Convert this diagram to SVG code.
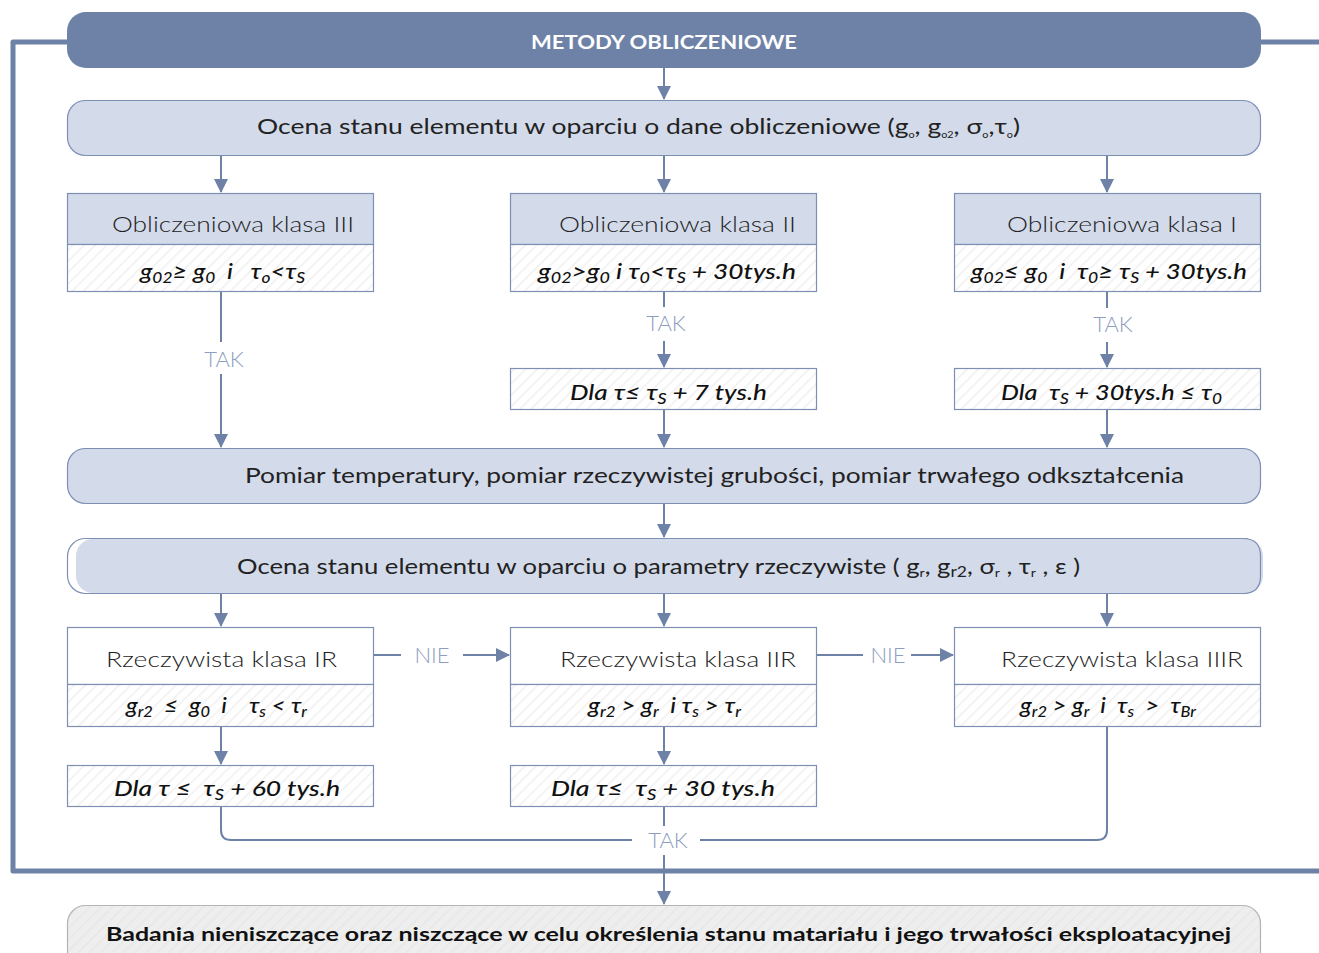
<svg xmlns="http://www.w3.org/2000/svg" width="1319" height="953" viewBox="0 0 1319 953">
  <defs>
    <pattern id="hatch" width="8" height="8" patternUnits="userSpaceOnUse" patternTransform="rotate(45)">
      <rect width="8" height="8" fill="#ffffff"/>
      <line x1="0" y1="0" x2="0" y2="8" stroke="#f0f0f0" stroke-width="3"/>
    </pattern>
    <pattern id="hatchGrey" width="8" height="8" patternUnits="userSpaceOnUse" patternTransform="rotate(45)">
      <rect width="8" height="8" fill="#eeeeee"/>
      <line x1="0" y1="0" x2="0" y2="8" stroke="#e7e7e7" stroke-width="3"/>
    </pattern>
    <marker id="arrow" markerWidth="14" markerHeight="14" refX="13" refY="7" orient="auto" markerUnits="userSpaceOnUse">
      <path d="M0,0 L14,7 L0,14 Z" fill="#6e82a8"/>
    </marker>
  </defs>
  <style>
    text { font-family: Lato, "Open Sans", "Liberation Sans", sans-serif; fill: #222; white-space: pre; }
    .title { font-size: 22px; font-weight: 300; }
    .main { font-size: 22px; font-weight: 400; }
    .formula { font-size: 22px; font-style: italic; font-weight: 500; fill: #111; }
    .label { font-size: 22px; font-weight: 300; fill: #8d9dc0; }
    .head { font-size: 19px; font-weight: 700; fill: #ffffff; }
    .bold { font-size: 19px; font-weight: 700; fill: #111; }
    .blue { fill: #d3daea; stroke: #7d8fb3; stroke-width: 1.2; }
    .plain { fill: #ffffff; stroke: #7d8fb3; stroke-width: 1.2; }
    .striped { fill: url(#hatch); stroke: #7d8fb3; stroke-width: 1.2; }
    .conn { fill: none; stroke: #6e82a8; stroke-width: 2; }
    .frame { fill: none; stroke: #6e82a8; stroke-width: 5; stroke-linejoin: round; }
  </style>

  <!-- outer frame of the computational part -->
  <g id="frame">
    <path class="frame" d="M70,42 H13 V871 H1319"/>
    <path class="frame" d="M1258,42 H1319"/>
  </g>

  <!-- connectors -->
  <g id="connectors">
    <line class="conn" x1="664" y1="68" x2="664" y2="99" marker-end="url(#arrow)"/>
    <line class="conn" x1="221" y1="156" x2="221" y2="192" marker-end="url(#arrow)"/>
    <line class="conn" x1="664" y1="156" x2="664" y2="192" marker-end="url(#arrow)"/>
    <line class="conn" x1="1107" y1="156" x2="1107" y2="192" marker-end="url(#arrow)"/>

    <line class="conn" x1="221" y1="291" x2="221" y2="342"/>
    <line class="conn" x1="221" y1="374" x2="221" y2="447" marker-end="url(#arrow)"/>
    <line class="conn" x1="664" y1="291" x2="664" y2="307"/>
    <line class="conn" x1="664" y1="341" x2="664" y2="367" marker-end="url(#arrow)"/>
    <line class="conn" x1="1107" y1="291" x2="1107" y2="308"/>
    <line class="conn" x1="1107" y1="342" x2="1107" y2="367" marker-end="url(#arrow)"/>
    <line class="conn" x1="664" y1="409" x2="664" y2="447" marker-end="url(#arrow)"/>
    <line class="conn" x1="1107" y1="409" x2="1107" y2="447" marker-end="url(#arrow)"/>

    <line class="conn" x1="664" y1="503" x2="664" y2="537" marker-end="url(#arrow)"/>
    <line class="conn" x1="221" y1="593" x2="221" y2="626" marker-end="url(#arrow)"/>
    <line class="conn" x1="664" y1="593" x2="664" y2="626" marker-end="url(#arrow)"/>
    <line class="conn" x1="1107" y1="593" x2="1107" y2="626" marker-end="url(#arrow)"/>

    <line class="conn" x1="374" y1="655" x2="401" y2="655"/>
    <line class="conn" x1="463" y1="655" x2="509" y2="655" marker-end="url(#arrow)"/>
    <line class="conn" x1="817" y1="655" x2="863" y2="655"/>
    <line class="conn" x1="911" y1="655" x2="953" y2="655" marker-end="url(#arrow)"/>

    <line class="conn" x1="221" y1="726" x2="221" y2="764" marker-end="url(#arrow)"/>
    <line class="conn" x1="664" y1="726" x2="664" y2="764" marker-end="url(#arrow)"/>

    <path class="conn" d="M221,806 V830 Q221,840 231,840 H632"/>
    <path class="conn" d="M1107,726 V830 Q1107,840 1097,840 H700"/>
    <line class="conn" x1="664" y1="806" x2="664" y2="826"/>
    <line class="conn" x1="664" y1="855" x2="664" y2="904" marker-end="url(#arrow)"/>
  </g>

  <!-- connector labels -->
  <g id="labels">
    <text class="label" x="224" y="367" text-anchor="middle">TAK</text>
    <text class="label" x="666" y="331" text-anchor="middle">TAK</text>
    <text class="label" x="1113" y="332" text-anchor="middle">TAK</text>
    <text class="label" x="432" y="663" text-anchor="middle">NIE</text>
    <text class="label" x="888" y="663" text-anchor="middle">NIE</text>
    <text class="label" x="668" y="848" text-anchor="middle">TAK</text>
  </g>

  <g id="header">
    <rect x="67" y="12" width="1194" height="56" rx="19" fill="#6e82a8"/>
    <text class="head" x="664" y="49" text-anchor="middle" textLength="266" lengthAdjust="spacingAndGlyphs">METODY OBLICZENIOWE</text>
  </g>

  <g id="ocena-obliczeniowe">
    <rect class="blue" x="67.5" y="100.5" width="1193" height="55" rx="18"/>
    <text class="main" x="257" y="134" textLength="763" lengthAdjust="spacingAndGlyphs">Ocena stanu elementu w oparciu o dane obliczeniowe (g<tspan font-size="9" baseline-shift="-4">o</tspan>, g<tspan font-size="9" baseline-shift="-4">o2</tspan>, σ<tspan font-size="9" baseline-shift="-4">o</tspan>,τ<tspan font-size="9" baseline-shift="-4">o</tspan>)</text>
  </g>

  <g id="klasa-III">
    <rect class="blue" x="67.5" y="193.5" width="306" height="51"/>
    <rect class="striped" x="67.5" y="244.5" width="306" height="47"/>
    <text class="title" x="112" y="232" textLength="242" lengthAdjust="spacingAndGlyphs">Obliczeniowa klasa III</text>
    <text class="formula" x="140" y="279" textLength="165" lengthAdjust="spacingAndGlyphs">g<tspan font-size="15" baseline-shift="-4">02</tspan>≥ g<tspan font-size="15" baseline-shift="-4">0</tspan>  i   τ<tspan font-size="15" baseline-shift="-4">o</tspan>&lt;τ<tspan font-size="15" baseline-shift="-4">S</tspan></text>
  </g>

  <g id="klasa-II">
    <rect class="blue" x="510.5" y="193.5" width="306" height="51"/>
    <rect class="striped" x="510.5" y="244.5" width="306" height="47"/>
    <text class="title" x="559" y="232" textLength="237" lengthAdjust="spacingAndGlyphs">Obliczeniowa klasa II</text>
    <text class="formula" x="538" y="279" textLength="258" lengthAdjust="spacingAndGlyphs">g<tspan font-size="15" baseline-shift="-4">02</tspan>&gt;g<tspan font-size="15" baseline-shift="-4">0</tspan> i τ<tspan font-size="15" baseline-shift="-4">0</tspan>&lt;τ<tspan font-size="15" baseline-shift="-4">S</tspan> + 30tys.h</text>
  </g>

  <g id="klasa-I">
    <rect class="blue" x="954.5" y="193.5" width="306" height="51"/>
    <rect class="striped" x="954.5" y="244.5" width="306" height="47"/>
    <text class="title" x="1007" y="232" textLength="230" lengthAdjust="spacingAndGlyphs">Obliczeniowa klasa I</text>
    <text class="formula" x="971" y="279" textLength="276" lengthAdjust="spacingAndGlyphs">g<tspan font-size="15" baseline-shift="-4">02</tspan>≤ g<tspan font-size="15" baseline-shift="-4">0</tspan>  i  τ<tspan font-size="15" baseline-shift="-4">0</tspan>≥ τ<tspan font-size="15" baseline-shift="-4">S</tspan> + 30tys.h</text>
  </g>

  <g id="dla-II">
    <rect class="striped" x="510.5" y="368.5" width="306" height="41"/>
    <text class="formula" x="570" y="400" textLength="197" lengthAdjust="spacingAndGlyphs">Dla τ≤ τ<tspan font-size="15" baseline-shift="-4">S</tspan> + 7 tys.h</text>
  </g>

  <g id="dla-I">
    <rect class="striped" x="954.5" y="368.5" width="306" height="41"/>
    <text class="formula" x="1001" y="400" textLength="221" lengthAdjust="spacingAndGlyphs">Dla  τ<tspan font-size="15" baseline-shift="-4">S</tspan> + 30tys.h ≤ τ<tspan font-size="15" baseline-shift="-4">0</tspan></text>
  </g>

  <g id="pomiar">
    <rect class="blue" x="67.5" y="448.5" width="1193" height="55" rx="18"/>
    <text class="main" x="245" y="483" textLength="939" lengthAdjust="spacingAndGlyphs">Pomiar temperatury, pomiar rzeczywistej grubości, pomiar trwałego odkształcenia</text>
  </g>

  <g id="ocena-rzeczywiste">
    <rect x="67.5" y="538.5" width="1193" height="55" rx="18" fill="#ffffff" stroke="#7d8fb3" stroke-width="1.2"/>
    <rect x="76" y="539" width="1187" height="54" rx="17" fill="#d3daea"/>
    <path d="M1243,538.5 Q1260.5,538.5 1260.5,556 V576 Q1260.5,593.5 1243,593.5" fill="none" stroke="#7d8fb3" stroke-width="1.2"/>
    <text class="main" x="237" y="574" textLength="843" lengthAdjust="spacingAndGlyphs">Ocena stanu elementu w oparciu o parametry rzeczywiste ( g<tspan font-size="12" baseline-shift="-3">r</tspan>, g<tspan font-size="15" baseline-shift="-3">r2</tspan>, σ<tspan font-size="12" baseline-shift="-3">r</tspan> , τ<tspan font-size="12" baseline-shift="-3">r</tspan> , ε )</text>
  </g>

  <g id="klasa-IR">
    <rect class="plain" x="67.5" y="627.5" width="306" height="57"/>
    <rect class="striped" x="67.5" y="684.5" width="306" height="42"/>
    <text class="title" x="106" y="667" textLength="231" lengthAdjust="spacingAndGlyphs">Rzeczywista klasa IR</text>
    <text class="formula" x="126" y="713" textLength="181" lengthAdjust="spacingAndGlyphs">g<tspan font-size="15" baseline-shift="-4">r2</tspan>  ≤  g<tspan font-size="15" baseline-shift="-4">0</tspan>  i    τ<tspan font-size="15" baseline-shift="-4">s</tspan> &lt; τ<tspan font-size="15" baseline-shift="-4">r</tspan></text>
  </g>

  <g id="klasa-IIR">
    <rect class="plain" x="510.5" y="627.5" width="306" height="57"/>
    <rect class="striped" x="510.5" y="684.5" width="306" height="42"/>
    <text class="title" x="560" y="667" textLength="236" lengthAdjust="spacingAndGlyphs">Rzeczywista klasa IIR</text>
    <text class="formula" x="588" y="713" textLength="153" lengthAdjust="spacingAndGlyphs">g<tspan font-size="15" baseline-shift="-4">r2</tspan> &gt; g<tspan font-size="15" baseline-shift="-4">r</tspan>  i τ<tspan font-size="15" baseline-shift="-4">s</tspan> &gt; τ<tspan font-size="15" baseline-shift="-4">r</tspan></text>
  </g>

  <g id="klasa-IIIR">
    <rect class="plain" x="954.5" y="627.5" width="306" height="57"/>
    <rect class="striped" x="954.5" y="684.5" width="306" height="42"/>
    <text class="title" x="1001" y="667" textLength="242" lengthAdjust="spacingAndGlyphs">Rzeczywista klasa IIIR</text>
    <text class="formula" x="1020" y="713" textLength="176" lengthAdjust="spacingAndGlyphs">g<tspan font-size="15" baseline-shift="-4">r2</tspan> &gt; g<tspan font-size="15" baseline-shift="-4">r</tspan>  i  τ<tspan font-size="15" baseline-shift="-4">s</tspan>  &gt;  τ<tspan font-size="15" baseline-shift="-4">Br</tspan></text>
  </g>

  <g id="dla-IR">
    <rect class="striped" x="67.5" y="765.5" width="306" height="41"/>
    <text class="formula" x="114" y="796" textLength="226" lengthAdjust="spacingAndGlyphs">Dla τ ≤  τ<tspan font-size="15" baseline-shift="-4">S</tspan> + 60 tys.h</text>
  </g>

  <g id="dla-IIR">
    <rect class="striped" x="510.5" y="765.5" width="306" height="41"/>
    <text class="formula" x="551" y="796" textLength="224" lengthAdjust="spacingAndGlyphs">Dla τ≤  τ<tspan font-size="15" baseline-shift="-4">S</tspan> + 30 tys.h</text>
  </g>

  <g id="badania">
    <rect x="67.5" y="905.5" width="1193" height="70" rx="18" fill="url(#hatchGrey)" stroke="#b4b4b4" stroke-width="1.2"/>
    <text class="bold" x="106" y="941" textLength="1125" lengthAdjust="spacingAndGlyphs">Badania nieniszczące oraz niszczące w celu określenia stanu matariału i jego trwałości eksploatacyjnej</text>
  </g>
</svg>
